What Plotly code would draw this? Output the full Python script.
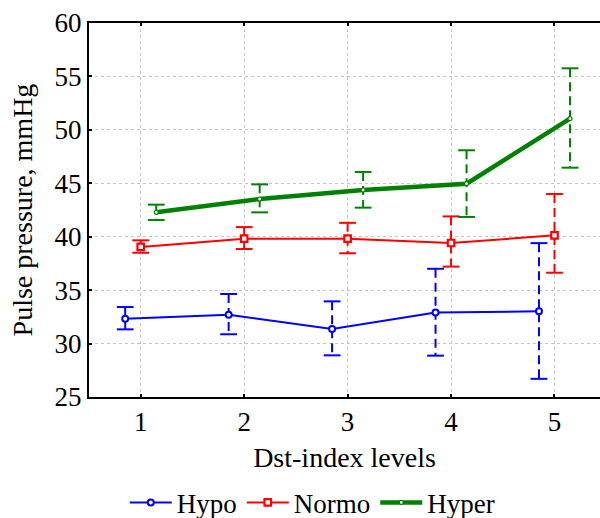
import plotly.graph_objects as go

levels = [1, 2, 3, 4, 5]
tick_labels = ["1", "2", "3", "4", "5"]
y_ticks = [25, 30, 35, 40, 45, 50, 55, 60]

hypo_mean = [32.33, 32.70, 31.36, 32.90, 33.02]
hypo_low = [31.33, 30.87, 28.90, 28.87, 26.70]
hypo_high = [33.42, 34.64, 33.95, 37.00, 39.40]

normo_mean = [39.04, 39.82, 39.82, 39.41, 40.13]
normo_low = [38.50, 38.85, 38.45, 37.20, 36.63]
normo_high = [39.66, 40.90, 41.30, 41.90, 44.00]

hyper_mean = [42.28, 43.53, 44.37, 44.96, 51.05]
hyper_low = [41.56, 42.28, 42.72, 41.85, 46.46]
hyper_high = [43.00, 44.90, 46.06, 48.09, 55.76]

FONT = "Liberation Serif, Times New Roman, serif"

series = [
    dict(name="Hypo", mean=hypo_mean, low=hypo_low, high=hypo_high, color="#0000ff",
         offset=-0.15, lw=2, symbol="circle", msize=6, mline=2),
    dict(name="Normo", mean=normo_mean, low=normo_low, high=normo_high, color="#ff0000",
         offset=0.0, lw=2, symbol="square", msize=6.5, mline=2.2),
    dict(name="Hyper", mean=hyper_mean, low=hyper_low, high=hyper_high, color="#008000",
         offset=0.15, lw=4.5, symbol="circle", msize=4, mline=1.2),
]

fig = go.Figure()

# error bars (dashed verticals + caps)
for s in series:
    xs = [l + s["offset"] for l in levels]
    vx, vy = [], []
    for x, lo, hi in zip(xs, s["low"], s["high"]):
        vx += [x, x, None]
        vy += [hi, lo, None]
    fig.add_trace(go.Scatter(x=vx, y=vy, mode="lines", showlegend=False, hoverinfo="skip",
                             line=dict(color=s["color"], width=2, dash="9px,5px")))
    fig.add_trace(go.Scatter(x=xs + xs, y=s["low"] + s["high"], mode="markers",
                             showlegend=False, hoverinfo="skip",
                             marker=dict(symbol="line-ew", size=12,
                                         line=dict(color=s["color"], width=2))))

# mean lines
for s in series:
    xs = [l + s["offset"] for l in levels]
    fig.add_trace(go.Scatter(x=xs, y=s["mean"], mode="lines+markers", name=s["name"],
                             line=dict(color=s["color"], width=s["lw"]),
                             marker=dict(symbol=s["symbol"], size=s["msize"], color="white",
                                         line=dict(color=s["color"], width=s["mline"]))))

fig.update_layout(
    width=600, height=518,
    margin=dict(l=89, r=0, t=23, b=121, autoexpand=False),
    paper_bgcolor="white", plot_bgcolor="white",
    font=dict(family=FONT, size=27, color="black"),
    showlegend=True,
    legend=dict(orientation="h", x=0.07, xanchor="left", y=-0.283, yanchor="middle",
                font=dict(family=FONT, size=27, color="black"),
                bgcolor="rgba(0,0,0,0)", itemsizing="trace", itemwidth=42,
                tracegroupgap=0),
)

fig.update_xaxes(
    range=[0.5, 5.44], tickvals=levels, ticktext=tick_labels,
    showline=True, linecolor="black", linewidth=2, mirror="ticks",
    ticks="inside", ticklen=3, tickwidth=2, tickcolor="black",
    showgrid=True, gridcolor="#c4c4c4", griddash="3px,3px", gridwidth=1,
    zeroline=False, ticklabelstandoff=0, automargin=False,
    tickfont=dict(family=FONT, size=27, color="black"),
    title=dict(text="Dst-index levels", font=dict(family=FONT, size=28, color="black"), standoff=11),
)
fig.update_yaxes(
    range=[25, 60], tickvals=y_ticks,
    showline=True, linecolor="black", linewidth=2, mirror=False,
    ticks="inside", ticklen=3, tickwidth=2, tickcolor="black",
    showgrid=True, gridcolor="#c4c4c4", griddash="3px,3px", gridwidth=1,
    zeroline=False, automargin=False,
    tickfont=dict(family=FONT, size=27, color="black"),
    title=dict(text="Pulse pressure, mmHg", font=dict(family=FONT, size=28, color="black"), standoff=14),
)

fig.write_html("out.html")
